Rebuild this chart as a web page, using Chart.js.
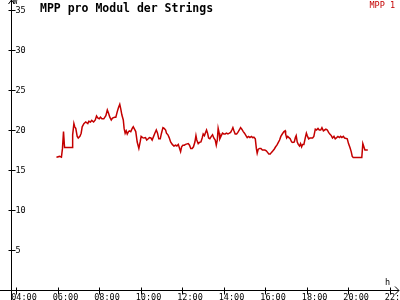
<!DOCTYPE html>
<html>
<head>
<meta charset="utf-8">
<script src="https://cdn.jsdelivr.net/npm/chart.js@4.4.0/dist/chart.umd.min.js"></script>
<style>
  html, body { margin: 0; padding: 0; background: #fff; }
  canvas { display: block; }
</style>
</head>
<body>
<canvas id="mppChart" width="400" height="300"></canvas>
<script>
const chartTitle = 'MPP pro Modul der Strings';
const seriesLabel = 'MPP 1';

// time of day in hours
const times = [
  5.94, 6.09, 6.18, 6.23, 6.28, 6.33, 6.38, 6.71, 6.72, 6.78,
  6.82, 6.87, 6.94, 6.99, 7.07, 7.13, 7.18, 7.26, 7.35, 7.45,
  7.50, 7.58, 7.64, 7.73, 7.81, 7.87, 7.93, 8.00, 8.06, 8.13,
  8.22, 8.32, 8.39, 8.45, 8.51, 8.58, 8.64, 8.74, 8.80, 8.87,
  8.93, 8.99, 9.04, 9.09, 9.16, 9.20, 9.25, 9.30, 9.35, 9.41,
  9.45, 9.52, 9.59, 9.64, 9.70, 9.76, 9.83, 9.91, 9.98, 10.02,
  10.09, 10.15, 10.23, 10.29, 10.36, 10.42, 10.49, 10.55, 10.62, 10.68,
  10.75, 10.81, 10.87, 10.94, 11.00, 11.07, 11.13, 11.20, 11.24, 11.31,
  11.37, 11.44, 11.52, 11.60, 11.68, 11.74, 11.81, 11.87, 11.92, 11.97,
  12.03, 12.10, 12.16, 12.29, 12.35, 12.41, 12.48, 12.54, 12.61, 12.66,
  12.70, 12.77, 12.83, 12.90, 12.96, 13.01, 13.07,
  13.11, 13.17, 13.22, 13.27, 13.33, 13.40, 13.46, 13.52, 13.59, 13.64,
  13.69, 13.73, 13.78, 13.81, 13.88, 13.94, 14.00, 14.07, 14.13, 14.20,
  14.27, 14.33, 14.39, 14.44, 14.49, 14.55, 14.62, 14.68, 14.75, 14.81,
  14.87, 14.94, 15.00, 15.07, 15.13, 15.20, 15.26, 15.33, 15.39, 15.45,
  15.52, 15.57, 15.61, 15.66, 15.73, 15.79, 15.86, 15.98, 16.05, 16.11,
  16.17, 16.24, 16.30, 16.37, 16.43, 16.50, 16.56, 16.63, 16.69, 16.75,
  16.82, 16.90, 16.96,
  16.98, 17.03, 17.08, 17.14, 17.20, 17.27, 17.33, 17.40, 17.45, 17.49,
  17.54, 17.59, 17.65, 17.70, 17.75, 17.80, 17.86, 17.93, 17.98, 18.02,
  18.09, 18.15, 18.28, 18.34, 18.41, 18.47, 18.54, 18.60, 18.67, 18.73,
  18.80, 18.86, 18.92, 18.99, 19.05, 19.11, 19.18, 19.24, 19.31, 19.37,
  19.44, 19.50, 19.57, 19.63, 19.69, 19.76, 19.82, 19.95, 20.01, 20.08,
  20.14, 20.19, 20.24, 20.59, 20.65, 20.70, 20.75, 20.80, 20.94
];

// power per module in W
const mppValues = [
  16.6, 16.7, 16.6, 17.7, 19.8, 17.8, 17.8, 17.8, 19.4, 20.8,
  20.4, 20.2, 19.2, 19.0, 19.2, 19.6, 20.4, 20.8, 21.0, 20.8,
  21.1, 21.0, 21.2, 21.0, 21.25, 21.75, 21.5, 21.4, 21.6, 21.4,
  21.4, 21.8, 22.5, 22.1, 21.6, 21.25, 21.5, 21.6, 21.6, 22.3,
  22.8, 23.2, 22.6, 21.9, 21.25, 20.2, 19.6, 19.9, 19.5, 19.8,
  19.9, 19.8, 20.2, 20.4, 20.1, 19.8, 18.5, 17.7, 18.6, 19.2,
  19.05, 19.0, 19.05, 18.75, 18.9, 19.05, 19.0, 18.75, 19.2, 19.6,
  20.0, 19.6, 18.9, 18.9, 19.6, 20.3, 20.2, 20.0, 19.6, 19.4,
  19.05, 18.5, 18.2, 18.0, 18.1, 18.0, 18.2, 17.7, 17.3, 17.9,
  18.1, 18.1, 18.2, 18.3, 18.1, 17.7, 17.7, 17.9, 18.5, 19.3,
  18.75, 18.3, 18.45, 18.5, 19.0, 19.5, 19.3,
  19.6, 20.0, 19.6, 19.0, 18.9, 19.2, 19.4, 19.0, 18.75, 18.1,
  18.75, 20.2, 19.6, 18.9, 19.3, 19.6, 19.5, 19.5, 19.6, 19.5,
  19.6, 19.7, 20.0, 20.3, 19.9, 19.5, 19.5, 19.7, 20.0, 20.3,
  20.1, 19.8, 19.6, 19.3, 19.05, 19.2, 19.05, 19.2, 19.05, 19.1,
  18.9, 17.7, 17.1, 17.6, 17.7, 17.7, 17.5, 17.5, 17.4, 17.2,
  17.0, 17.0, 17.2, 17.4, 17.6, 17.9, 18.1, 18.45, 18.75, 19.2,
  19.5, 19.8, 19.9,
  19.5, 19.0, 19.2, 19.05, 18.9, 18.5, 18.45, 18.5, 19.05, 19.3,
  18.5, 18.2, 18.0, 18.3, 17.9, 18.2, 18.2, 19.05, 19.6, 19.3,
  18.9, 19.0, 19.0, 19.2, 20.1, 20.0, 20.2, 20.0, 20.0, 20.3,
  19.9, 20.0, 20.1, 20.0, 19.7, 19.5, 19.3, 19.0, 19.2, 18.9,
  19.05, 19.2, 19.05, 19.2, 19.05, 19.2, 19.0, 18.9, 18.3, 17.8,
  17.3, 16.7, 16.55, 16.55, 16.55, 18.3, 17.9, 17.5, 17.5
];

const xTicks = [4, 6, 8, 10, 12, 14, 16, 18, 20, 22];
const xTickLabels = ['04:00', '06:00', '08:00', '10:00', '12:00', '14:00', '16:00', '18:00', '20:00', '22:00'];
const yTicks = [5, 10, 15, 20, 25, 30, 35];

const xMin = 3.75, xMax = 22.25;
const lineColor = '#c40000';
const monoFont = '"DejaVu Sans Mono", "Liberation Mono", monospace';

// axes with arrows, crossing ticks and mirrored labels, placed by the chart scales
const axesPlugin = {
  id: 'arrowAxes',
  afterDraw(chart) {
    const { ctx, scales: { x, y } } = chart;
    const ax = Math.round(x.getPixelForValue(xMin)) + 0.5;
    const ay = Math.round(y.getPixelForValue(0)) + 0.5;
    const w = chart.width, h = chart.height;

    ctx.save();
    ctx.strokeStyle = '#000';
    ctx.lineWidth = 1;
    ctx.beginPath();
    ctx.moveTo(ax, 0); ctx.lineTo(ax, h);
    ctx.moveTo(0, ay); ctx.lineTo(w - 1, ay);
    // arrow heads
    ctx.moveTo(ax - 3, 4); ctx.lineTo(ax, 0); ctx.lineTo(ax + 3, 4);
    ctx.moveTo(w - 5, ay - 4); ctx.lineTo(w - 1, ay); ctx.lineTo(w - 5, ay + 4);
    yTicks.forEach(v => {
      const py = Math.round(y.getPixelForValue(v)) + 0.5;
      ctx.moveTo(ax - 3, py); ctx.lineTo(ax + 4, py);
    });
    xTicks.forEach(v => {
      const px = Math.round(x.getPixelForValue(v)) + 0.5;
      ctx.moveTo(px, ay - 3); ctx.lineTo(px, ay + 4);
    });
    ctx.stroke();

    ctx.fillStyle = '#000';
    ctx.font = '8.5px ' + monoFont;
    ctx.textAlign = 'left';
    ctx.textBaseline = 'middle';
    yTicks.forEach(v => {
      ctx.fillText(String(v), ax + 4, y.getPixelForValue(v) + 0.5);
    });
    ctx.textBaseline = 'alphabetic';
    xTicks.forEach((v, i) => {
      ctx.fillText(xTickLabels[i], x.getPixelForValue(v) - 5, ay + 9.5);
    });
    ctx.fillText('W', ax + 1, 4);
    ctx.fillText('h', w - 15, ay - 5.5);

    ctx.font = 'bold 11.5px ' + monoFont;
    ctx.fillText(chartTitle, 40, 12);

    ctx.fillStyle = lineColor;
    ctx.font = '8.5px ' + monoFont;
    ctx.textAlign = 'right';
    ctx.fillText(chart.data.datasets[0].label, w - 5, 8);
    ctx.restore();
  }
};

new Chart(document.getElementById('mppChart').getContext('2d'), {
  type: 'line',
  data: {
    datasets: [{
      label: seriesLabel,
      data: times.map((t, i) => ({ x: t, y: mppValues[i] })),
      borderColor: lineColor,
      backgroundColor: 'transparent',
      borderWidth: 1.5,
      tension: 0,
      pointRadius: 0
    }]
  },
  options: {
    responsive: false,
    animation: false,
    devicePixelRatio: 1,
    layout: { padding: { left: 11, right: 5, top: 10, bottom: 10 } },
    plugins: {
      legend: { display: false },
      tooltip: { enabled: false }
    },
    scales: {
      x: { type: 'linear', min: xMin, max: xMax, display: false },
      y: { min: 0, max: 35, display: false }
    }
  },
  plugins: [axesPlugin]
});
</script>
</body>
</html>
